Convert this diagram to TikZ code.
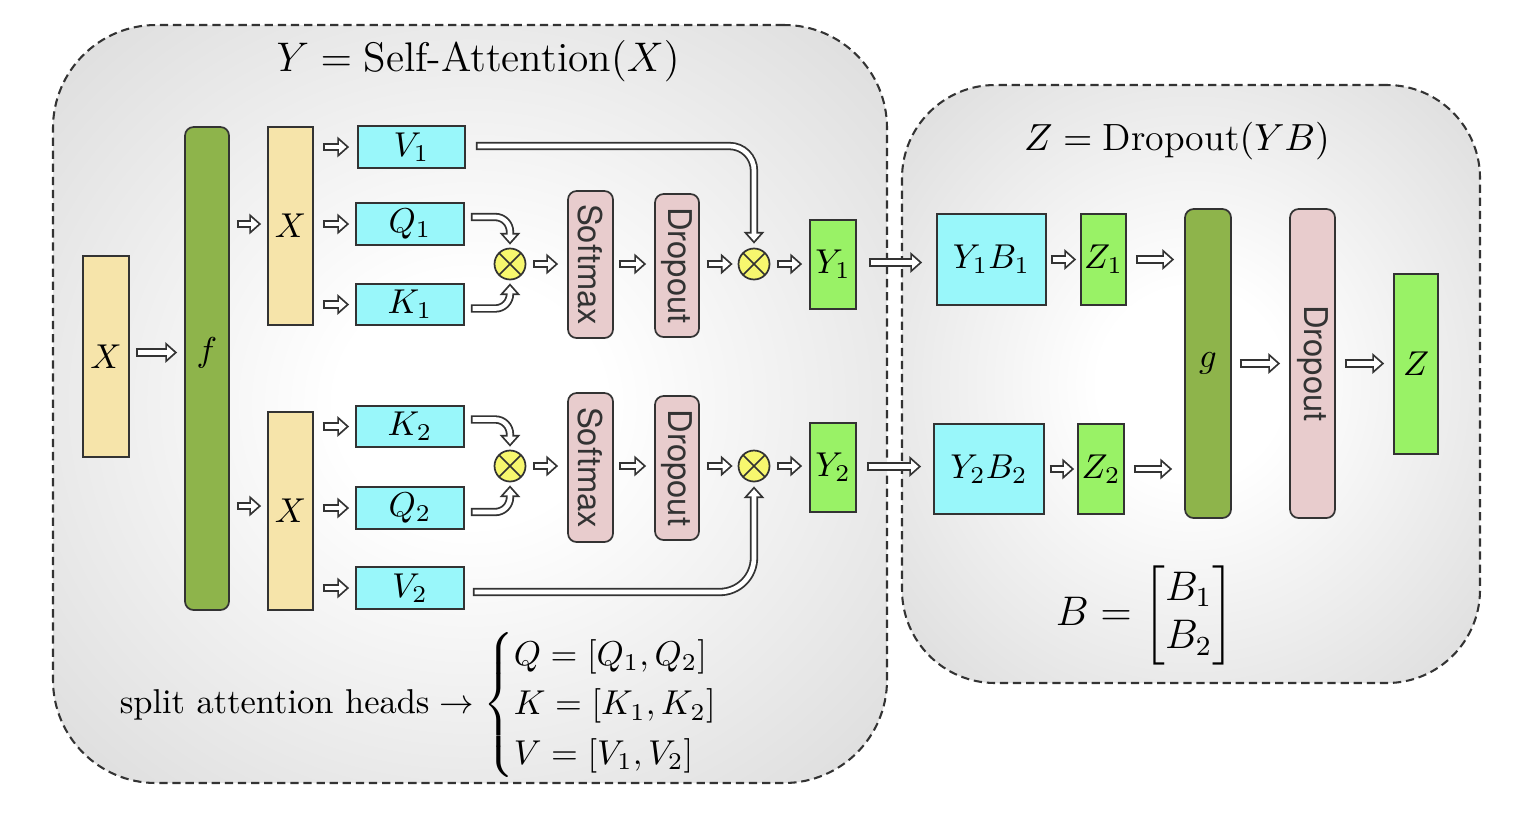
\documentclass[tikz,border=0pt]{standalone}
\usepackage{amsmath}
\usepackage{fontspec}
\newfontfamily\blockfont{TeX Gyre Heros}
\usetikzlibrary{calc}
\usetikzlibrary{positioning}
\usetikzlibrary{arrows.meta}

% one pixel of the layout
\newcommand{\pxu}{0.0102cm}

\definecolor{inputwheat}{RGB}{246,228,170}
\definecolor{mixgreen}{RGB}{142,180,75}
\definecolor{headcyan}{RGB}{153,247,250}
\definecolor{outgreen}{RGB}{153,242,102}
\definecolor{droppink}{RGB}{232,204,205}
\definecolor{multyellow}{RGB}{247,247,110}

\pgfdeclareradialshading{panelglow}{\pgfpoint{0bp}{0bp}}{%
    color(0bp)=(white); color(8bp)=(white);
    color(50bp)=(black!21); color(71bp)=(black!31)}

\tikzset{
    % Outline of a hollow block arrow, whited out inside by the postaction
    hollow/.style={line width=2.4pt, draw=black!80,
        -{Triangle[length=3.4pt, width=5.8pt]},
        postaction={draw=white, line width=1.35pt,
            shorten <=0.52pt, shorten >=0.8pt,
            -{Triangle[length=2.08pt, width=3.55pt]}}},
%
    % Size of a box given in layout pixels
    dims/.style 2 args={minimum width=#1*\pxu, minimum height=#2*\pxu},
%
    % Plain boxes with a thin dark border
    block/.style={draw=black!80, line width=0.5pt, inner sep=0pt},
    soft block/.style={block, rounded corners=2.5pt},
%
    % Rotated sans text for the softmax and dropout boxes
    side text/.style={rotate=-90, text=black!80,
        font=\blockfont\fontsize{9.5}{11}\selectfont},
%
    % The yellow product sign
    mult/.style={circle, draw=black!80, line width=0.5pt, fill=multyellow,
        minimum size=31*\pxu, inner sep=0pt,
        path picture={\draw[black!80, line width=0.5pt]
            (path picture bounding box.north west) --
            (path picture bounding box.south east)
            (path picture bounding box.north east) --
            (path picture bounding box.south west);}},
%
    % Shaded panel with a dashed border
    panel/.style={draw=black!80, dash pattern=on 2.4pt off 1.4pt,
        line width=0.6pt, shade, shading=panelglow, inner sep=0pt}}

\begin{document}
\begin{tikzpicture}[x=\pxu, y=-\pxu]
\useasboundingbox (0,0) rectangle (1532,838);

% the two panels
\node [panel, rounded corners=1.05cm, dims={834}{758}] (attn) at (470,404) {};
\node [font=\large] (attn title)
    at ($(attn.north)+(8,37)$) {$Y = \text{Self-Attention}(X)$};
\node [panel, rounded corners=0.95cm, dims={578}{598}] (proj) at (1191,384) {};
\node [font=\fontsize{11}{13}\selectfont] (proj title)
    at ($(proj.north)+(-14,57)$) {$Z = \text{Dropout}(YB)$};

% input and shared projection
\node [block, fill=inputwheat, dims={46}{201}] (xin) at (106,356.5) {$X$};
\node [soft block, fill=mixgreen, dims={44}{483},
    label={[yshift=0.16cm]center:$f$}] (f) at (207,368.5) {};
\node [block, fill=inputwheat, dims={45}{198}] (xa) at (290.5,226) {$X$};
\node [block, fill=inputwheat, dims={45}{198}] (xb) at (290.5,511) {$X$};

\node [block, fill=headcyan, dims={107}{42}] (v1) at (411.5,147) {$V_1$};
\node [block, fill=headcyan, dims={108}{42}] (q1) at (410,224) {$Q_1$};
\node [block, fill=headcyan, dims={108}{41}] (k1) at (410,304.5) {$K_1$};
\node [block, fill=headcyan, dims={108}{41}] (k2) at (410,426.5) {$K_2$};
\node [block, fill=headcyan, dims={108}{42}] (q2) at (410,508) {$Q_2$};
\node [block, fill=headcyan, dims={108}{42}] (v2) at (410,588) {$V_2$};

% first head
\node [mult] (m1) at (510,264) {};
\node [soft block, fill=droppink, dims={45}{147},
    label={[side text]center:Softmax}] (sm1) at (590.5,264.5) {};
\node [soft block, fill=droppink, dims={44}{143},
    label={[side text]center:Dropout}] (do1) at (677,265.5) {};
\node [mult] (m2) at (754,264) {};
\node [block, fill=outgreen, dims={46}{89}] (y1) at (833,264.5) {$Y_1$};

% second head
\node [mult] (m3) at (510,466) {};
\node [soft block, fill=droppink, dims={45}{149},
    label={[side text]center:Softmax}] (sm2) at (590.5,467.5) {};
\node [soft block, fill=droppink, dims={44}{144},
    label={[side text]center:Dropout}] (do2) at (677,468) {};
\node [mult] (m4) at (754,466) {};
\node [block, fill=outgreen, dims={46}{89}] (y2) at (833,467.5) {$Y_2$};

% output projection
\node [block, fill=headcyan, dims={109}{91}] (yb1) at (991.5,259.5) {$Y_1B_1$};
\node [block, fill=outgreen, dims={45}{91}] (z1) at (1103.5,259.5) {$Z_1$};
\node [block, fill=headcyan, dims={110}{90}] (yb2) at (989,469) {$Y_2B_2$};
\node [block, fill=outgreen, dims={46}{90}] (z2) at (1101,469) {$Z_2$};
\node [soft block, fill=mixgreen, dims={46}{309}] (g) at (1208,363.5) {$g$};
\node [soft block, fill=droppink, dims={45}{309},
    label={[side text]center:Dropout}] (do3) at (1312.5,363.5) {};
\node [block, fill=outgreen, dims={44}{180}] (zout) at (1416,364) {$Z$};

\node (heads) at (437,705) {$\text{split attention heads} \rightarrow
    \begin{cases} Q = [Q_1, Q_2]\\ K = [K_1, K_2]\\ V = [V_1, V_2] \end{cases}$};
\node [font=\large] (bmat) at (1145,615)
    {$B = \begin{bmatrix} B_1\\ B_2 \end{bmatrix}$};

% input to the shared projection
\draw [hollow] ($(xin.east)+(6,-4)$) -- ($(xin.east -| f.west)+(-7,-4)$);
\draw [hollow] ($(f.east |- xa.west)+(7,-2)$) -- ($(xa.west)+(-6,-2)$);
\draw [hollow] ($(f.east |- xb.west)+(7,-5)$) -- ($(xb.west)+(-6,-5)$);

% split into the heads
\draw [hollow] ($(xa.east |- v1.west)+(9,0)$) -- ($(v1.west)+(-8,0)$);
\draw [hollow] ($(xa.east |- q1.west)+(9,0)$) -- ($(q1.west)+(-6,0)$);
\draw [hollow] ($(xa.east |- k1.west)+(9,0)$) -- ($(k1.west)+(-6,0)$);
\draw [hollow] ($(xb.east |- k2.west)+(9,0)$) -- ($(k2.west)+(-6,0)$);
\draw [hollow] ($(xb.east |- q2.west)+(9,0)$) -- ($(q2.west)+(-6,0)$);
\draw [hollow] ($(xb.east |- v2.west)+(9,0)$) -- ($(v2.west)+(-6,0)$);

% scores
\draw [hollow, rounded corners=0.15cm] ($(q1.east)+(6,-7)$) -| ($(m1.north)+(0,-3)$);
\draw [hollow, rounded corners=0.15cm] ($(k1.east)+(6,4)$) -| ($(m1.south)+(0,3)$);
\draw [hollow, rounded corners=0.15cm] ($(k2.east)+(6,-7)$) -| ($(m3.north)+(0,-3)$);
\draw [hollow, rounded corners=0.15cm] ($(q2.east)+(6,4)$) -| ($(m3.south)+(0,3)$);

% values
\draw [hollow, rounded corners=0.25cm] ($(v1.east)+(10,-1)$) -| ($(m2.north)+(0,-4)$);
\draw [hollow, rounded corners=0.35cm] ($(v2.east)+(8,4)$) -| ($(m4.south)+(0,4)$);

% along the heads
\draw [hollow] ($(m1.east)+(7,0)$) -- ($(m1.east -| sm1.west)+(-9,0)$);
\draw [hollow] ($(m1.east -| sm1.east)+(5,0)$) -- ($(m1.east -| do1.west)+(-8,0)$);
\draw [hollow] ($(m2.west -| do1.east)+(7,0)$) -- ($(m2.west)+(-5,0)$);
\draw [hollow] ($(m2.east)+(7,0)$) -- ($(m2.east -| y1.west)+(-7,0)$);
\draw [hollow] ($(m3.east)+(7,0)$) -- ($(m3.east -| sm2.west)+(-9,0)$);
\draw [hollow] ($(m3.east -| sm2.east)+(5,0)$) -- ($(m3.east -| do2.west)+(-8,0)$);
\draw [hollow] ($(m4.west -| do2.east)+(7,0)$) -- ($(m4.west)+(-5,0)$);
\draw [hollow] ($(m4.east)+(7,0)$) -- ($(m4.east -| y2.west)+(-7,0)$);

% into the output projection
\draw [hollow] ($(y1.east)+(12,-2)$) -- ($(y1.east -| yb1.west)+(-14,-2)$);
\draw [hollow] ($(y2.east)+(10,-1)$) -- ($(y2.east -| yb2.west)+(-12,-1)$);
\draw [hollow] ($(yb1.east)+(4,0)$) -- ($(yb1.east -| z1.west)+(-4,0)$);
\draw [hollow] ($(z1.east)+(9,0)$) -- ($(z1.east -| g.west)+(-10,0)$);
\draw [hollow] ($(yb2.east)+(5,0)$) -- ($(yb2.east -| z2.west)+(-3,0)$);
\draw [hollow] ($(z2.east)+(9,0)$) -- ($(z2.east -| g.west)+(-12,0)$);
\draw [hollow] ($(g.east)+(8,0)$) -- ($(g.east -| do3.west)+(-9,0)$);
\draw [hollow] ($(do3.east)+(9,0)$) -- ($(do3.east -| zout.west)+(-9,0)$);

\end{tikzpicture}
\end{document}
